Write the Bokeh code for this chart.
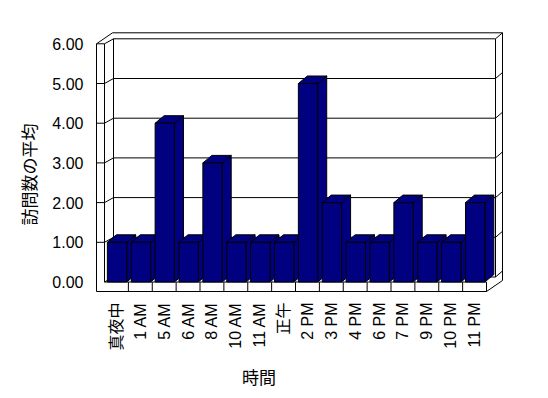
import math
from bokeh.plotting import figure
from bokeh.models import Range1d
from bokeh.core.properties import value
from bokeh.embed import file_html
from bokeh.resources import INLINE

# ---- data ----
categories = ["真夜中", "1 AM", "5 AM", "6 AM", "8 AM", "10 AM", "11 AM", "正午",
              "2 PM", "3 PM", "4 PM", "6 PM", "7 PM", "9 PM", "10 PM", "11 PM"]
visits = [1, 1, 4, 1, 3, 1, 1, 1, 5, 2, 1, 1, 2, 1, 1, 2]
value_ticks = [0, 1, 2, 3, 4, 5, 6]
y_title = "訪問数の平均"
x_title = "時間"

# ---- layout (pixels) ----
W, H = 548, 398
PX0, PY0 = 104.0, 281.5          # screen position of floor front-left / value 0
n = len(categories)
UX = (486.0 - PX0) / n          # px per category
UY = 39.7                        # px per value unit

def xd(px):
    return (px - PX0) / UX - 0.5

def yd(py):
    return (PY0 - py) / UY

# offsets in data units
BDX, BDY = 9 / UX, 5 / UY        # back plane offset
TX, TY = 7 / UX, 6 / UY          # wall thickness (back/right)
WT = 8 / UX                      # left wall thickness
FT_ = 9.5 / UY                   # floor thickness
DDX, DDY = 9 / UX, 7.5 / UY      # bar depth
x0, x1 = -0.5, n - 0.5
vmax = value_ticks[-1]

p = figure(width=W, height=H, output_backend="svg", toolbar_location=None,
           x_range=Range1d(xd(0), xd(W)), y_range=Range1d(yd(H), yd(0)),
           x_axis_location=None, y_axis_location=None, min_border=0)
p.outline_line_color = None
p.grid.visible = False
p.background_fill_color = "white"
p.border_fill_color = "white"

segs_x, segs_y = [], []
def seg(a, b):
    segs_x.append([a[0], b[0]])
    segs_y.append([a[1], b[1]])

# back wall
for v in value_ticks:
    seg((x0 + BDX, v + BDY), (x1 + BDX, v + BDY))
seg((x0 + BDX, BDY), (x0 + BDX, vmax + BDY))
seg((x1 + BDX, BDY), (x1 + BDX, vmax + BDY))
# right wall thickness ticks
for v in value_ticks:
    seg((x1 + BDX, v + BDY), (x1 + BDX + TX, v + BDY + TY))
# left wall
for v in value_ticks:
    seg((x0, v), (x0 + BDX, v + BDY))
    if v > 0:
        seg((x0 - WT, v), (x0, v))
seg((x0 - WT, -FT_), (x0 - WT, vmax))
seg((x0, 0), (x0, vmax))
seg((x0 - WT, vmax), (x0 - WT + BDX + TX, vmax + BDY + TY))
# outer top and right
seg((x0 - WT + BDX + TX, vmax + BDY + TY), (x1 + BDX + TX, vmax + BDY + TY))
seg((x1 + BDX + TX, vmax + BDY + TY), (x1 + BDX + TX, -FT_ + BDY + TY))
# floor
seg((x0, 0), (x1, 0))
seg((x0 - WT, -FT_), (x1, -FT_))
for k in range(1, n + 1):
    seg((x0 + k, 0), (x0 + k, -FT_))
seg((x1, -FT_), (x1 + BDX + TX, -FT_ + BDY + TY))

p.multi_line(segs_x, segs_y, line_color="black", line_width=1)

# bars
BL, BR = -0.38, 0.43
xs, ys = [], []
for i, v in enumerate(visits):
    l, r = i + BL, i + BR
    xs.append([r, r + DDX, r + DDX, r]); ys.append([0, DDY, v + DDY, v])      # side
    xs.append([l, r, r + DDX, l + DDX]); ys.append([v, v, v + DDY, v + DDY])  # top
    xs.append([l, r, r, l]); ys.append([0, 0, v, v])                          # front
p.patches(xs, ys, fill_color="#000080", line_color="black", line_width=1)

# value tick labels
p.text(x=[xd(83)] * len(value_ticks), y=value_ticks,
       text=[f"{t:.2f}" for t in value_ticks],
       text_align="right", text_baseline="middle",
       text_font=value("Liberation Sans"), text_font_size="16px", text_color="black")

# category tick labels (rotated)
p.text(x=list(range(n)), y=[yd(302)] * n, text=categories, angle=math.pi / 2,
       text_align="right", text_baseline="middle",
       text_font=value("Liberation Sans, Noto Sans CJK JP"), text_font_size="16px",
       text_color="black")

# axis titles
p.text(x=[xd(28)], y=[yd(174)], text=[y_title], angle=math.pi / 2,
       text_align="center", text_baseline="middle",
       text_font=value("Noto Sans CJK JP"), text_font_size="17px", text_color="black")
p.text(x=[xd(258.5)], y=[yd(376)], text=[x_title],
       text_align="center", text_baseline="middle",
       text_font=value("Noto Sans CJK JP"), text_font_size="17px", text_color="black")

open("out.html", "w").write(file_html(p, INLINE))
